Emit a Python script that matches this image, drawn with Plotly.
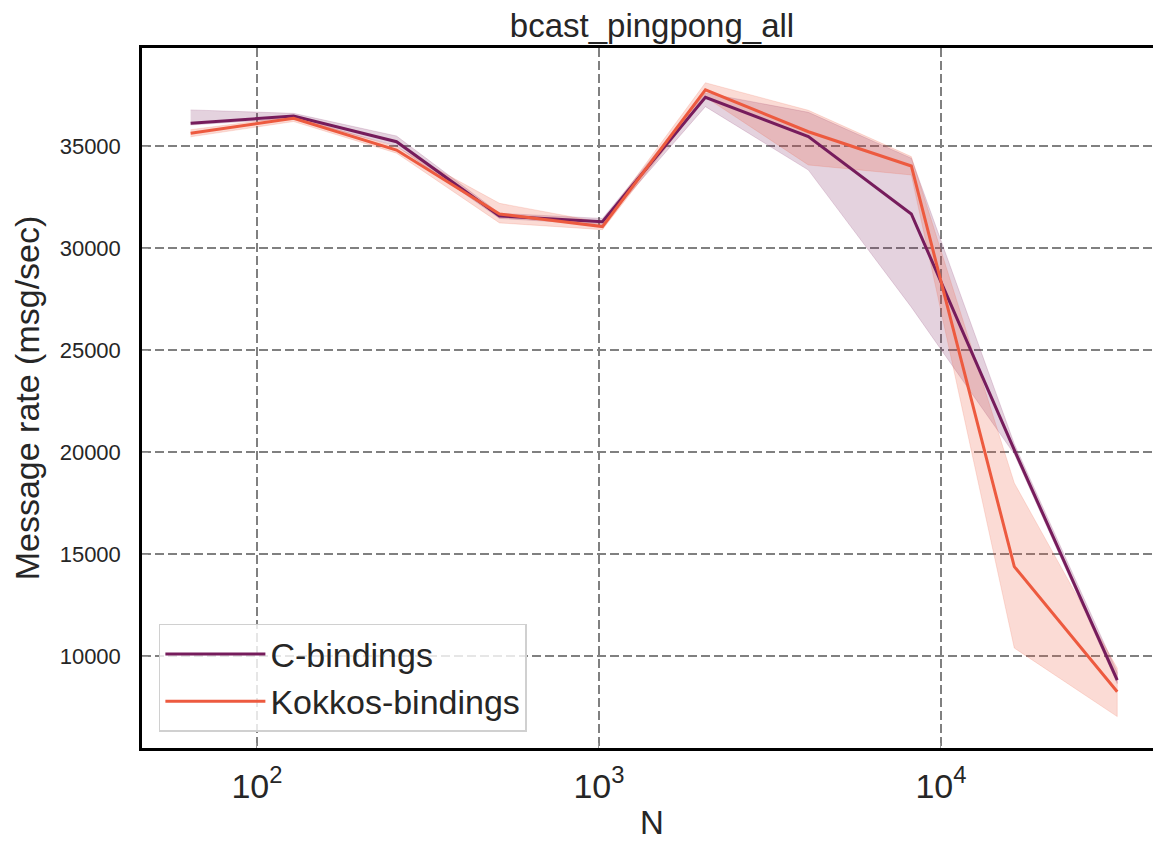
import plotly.graph_objects as go

N = [64, 128, 256, 512, 1024, 2048, 4096, 8192, 16384, 32768]

c_mean = [36110, 36470, 35210, 31570, 31290, 37390, 35460, 31670, 20100, 8820]
c_low = [36030, 36350, 35000, 31450, 31150, 36930, 33820, 27100, 19900, 8650]
c_high = [36770, 36600, 35490, 31700, 31450, 37600, 36650, 34400, 20400, 9200]

k_mean = [35620, 36360, 34800, 31670, 31050, 37750, 35700, 34020, 14380, 8250]
k_low = [35450, 36200, 34650, 31230, 30900, 37400, 34070, 33580, 10390, 7030]
k_high = [35800, 36450, 34950, 32190, 31250, 38100, 36750, 34480, 18480, 9400]

series = [
    ("C-bindings", c_mean, c_low, c_high, "#761c5c", "rgba(118,28,92,0.2)"),
    ("Kokkos-bindings", k_mean, k_low, k_high, "#ed5a3f", "rgba(237,90,63,0.22)"),
]

xticks = [100, 1000, 10000]
xticktext = ["10<sup>2</sup>", "10<sup>3</sup>", "10<sup>4</sup>"]
yticks = [10000, 15000, 20000, 25000, 30000, 35000]
yticktext = ["10000", "15000", "20000", "25000", "30000", "35000"]

FONT = "Liberation Sans, Arial, Helvetica, sans-serif"

W, H = 1145, 835

fig = go.Figure()
for name, m, lo, hi, col, fcol in series:
    fig.add_trace(go.Scatter(
        x=N + N[::-1], y=hi + lo[::-1], fill="toself", fillcolor=fcol,
        line=dict(width=0.8, color=fcol), mode="lines",
        showlegend=False, hoverinfo="skip"))
for name, m, lo, hi, col, fcol in series:
    fig.add_trace(go.Scatter(
        x=N, y=m, mode="lines", name=name,
        line=dict(color=col, width=3)))

fig.update_layout(
    width=W, height=H,
    margin=dict(l=134, r=0, t=40, b=95, autoexpand=False),
    paper_bgcolor="white", plot_bgcolor="white",
    font=dict(family=FONT, color="#262626"),
    title=dict(text="bcast_pingpong_all", font=dict(size=33, color="#262626"),
               x=644 / W, xanchor="center",
               yref="container", y=1 - 17 / H, yanchor="middle"),
    showlegend=True,
    legend=dict(x=0.0167, y=0.023, xanchor="left", yanchor="bottom",
                bgcolor="rgba(255,255,255,0.8)", bordercolor="#d0d0d0", borderwidth=1.5,
                font=dict(size=34, color="#262626"), itemwidth=100,
                tracegroupgap=4),
    annotations=[dict(text="N", xref="paper", yref="paper",
                      x=(644 - 134) / (W - 134), y=-0.1357,
                      xanchor="center", yanchor="bottom", showarrow=False,
                      font=dict(size=33, color="#262626"))],
)

fig.update_xaxes(
    type="log", range=[1.664, 4.620], automargin=False,
    tickvals=xticks, ticktext=xticktext,
    tickfont=dict(size=34, color="#262626"),
    showgrid=True, gridcolor="#808080", gridwidth=1.8, griddash="9px,4px",
    showline=True, linecolor="black", linewidth=2.5, mirror=True,
    ticks="inside", ticklen=5, tickcolor="#999999", ticklabelstandoff=6,
    zeroline=False,
)
fig.update_yaxes(
    range=[5490, 39804], automargin=False,
    tickvals=yticks, ticktext=yticktext,
    tickfont=dict(size=22, color="#262626"),
    showgrid=True, gridcolor="#808080", gridwidth=1.8, griddash="9px,4px",
    showline=True, linecolor="black", linewidth=2.5,
    ticks="inside", ticklen=6, tickcolor="#999999", ticklabelstandoff=14,
    title=dict(text="Message rate (msg/sec)", font=dict(size=34, color="#262626"), standoff=10),
    zeroline=False,
)

fig.write_html("out.html")
